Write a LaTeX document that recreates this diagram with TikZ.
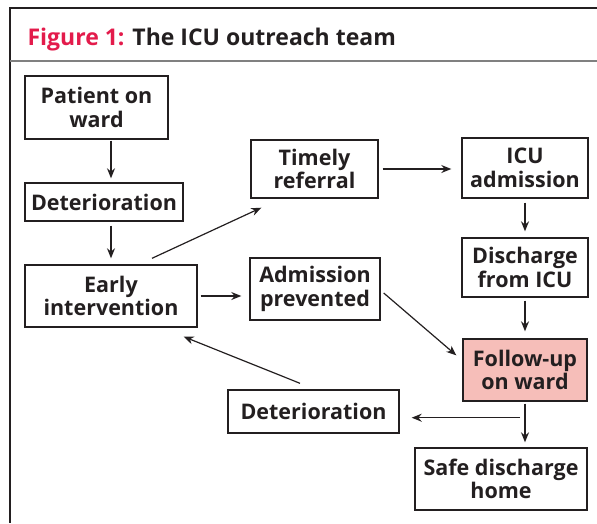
\documentclass[tikz,border=0pt]{standalone}
\usepackage{fontspec}
\setmainfont{Open Sans}
\usetikzlibrary{arrows.meta}
\definecolor{figred}{RGB}{227,27,75}
\definecolor{figtext}{RGB}{35,31,32}
\definecolor{figpink}{RGB}{246,190,185}
\begin{document}
\begin{tikzpicture}[x=1pt, y=-1pt,
  box/.style={draw=figtext, line width=1.4pt, align=center, inner sep=0pt,
    font=\fontsize{21.5}{23.5}\selectfont\bfseries, text=figtext},
  arr/.style={draw=figtext, line width=1.2pt, -{Stealth[length=10pt,width=8pt]}}]
  \useasboundingbox (0,0) rectangle (597,523);
  % frame and header
  \draw[figtext, line width=1.6pt] (597,8) -- (10,8) -- (10,523);
  \draw[gray, line width=2pt] (10,61) -- (597,61);
  \node[anchor=base west, font=\fontsize{23}{27}\selectfont\bfseries, text=figtext] (title) at (24,45)
    {\textcolor{figred}{Figure 1:} The ICU outreach team};
  % boxes
  \node[box, minimum width=143, minimum height=63] (pat) at (96.5,107.5) {Patient on\\ward};
  \node[box, minimum width=158, minimum height=38] (det1) at (104,202) {Deterioration};
  \node[box, minimum width=172, minimum height=62] (early) at (111,296) {Early\\intervention};
  \node[box, minimum width=127, minimum height=58] (timely) at (314.5,169) {Timely\\referral};
  \node[box, minimum width=130, minimum height=62] (adm) at (315,289) {Admission\\prevented};
  \node[box, minimum width=126, minimum height=60] (icu) at (525,168) {ICU\\admission};
  \node[box, minimum width=126, minimum height=59] (dis) at (525,267.5) {Discharge\\from ICU};
  \node[box, fill=figpink, minimum width=124, minimum height=62] (fol) at (525,370) {Follow-up\\on ward};
  \node[box, minimum width=172, minimum height=62] (safe) at (501,479) {Safe discharge\\home};
  \node[box, minimum width=171, minimum height=43] (det2) at (313.5,411.5) {Deterioration};
  % arrows
  \draw[arr, shorten <=1pt, shorten >=4pt] (pat.south -| early) -- (det1.north -| early);
  \draw[arr, shorten <=4pt, shorten >=6pt] (det1.south -| early) -- (early.north);
  \draw[arr] ([shift={(41,-6)}]early.north) -- ([shift={(11,9)}]timely.south west);
  \draw[arr, shorten <=3pt, shorten >=8pt] (early.east) -- (early.east -| adm.west);
  \draw[arr, shorten <=4pt, shorten >=10pt] (timely.east) -- (timely.east -| icu.west);
  \draw[arr, shorten <=4pt, shorten >=6pt] (icu.south) -- (dis.north);
  \draw[arr] ([shift={(3,4)}]adm.east) -- ([shift={(-6,17)}]fol.north west);
  \draw[arr, shorten <=3pt, shorten >=7pt] (dis.south) -- (fol.north);
  \draw[arr, shorten <=2pt, shorten >=5pt] (fol.south) -- (fol.south |- safe.north);
  \coordinate (split) at ([yshift=-16pt]fol.south);
  \draw[arr, shorten <=5pt, shorten >=12pt] (split) -- (split -| det2.east);
  \draw[arr] ([shift={(-13.5,-6)}]det2.north) -- ([shift={(-14,9)}]early.south east);
\end{tikzpicture}
\end{document}
